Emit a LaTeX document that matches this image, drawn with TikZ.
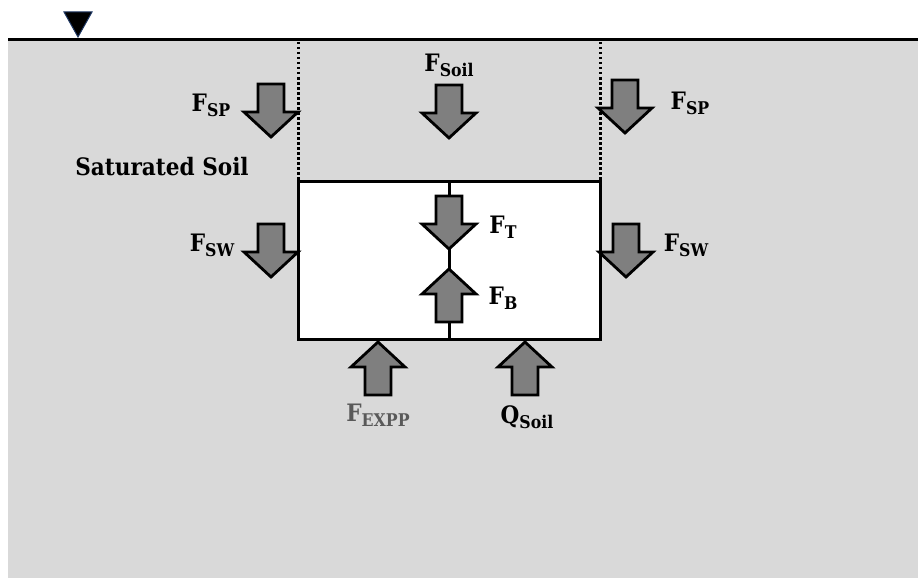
\documentclass[tikz,border=0pt]{standalone}
\usepackage{fontspec}
\setmainfont{DejaVu Serif Condensed}
\usetikzlibrary{calc}
\definecolor{soilgray}{HTML}{D9D9D9}
\definecolor{arrowgray}{HTML}{7F7F7F}
\definecolor{labelgray}{HTML}{595959}
\definecolor{navyedge}{HTML}{1F3864}
\newcommand{\FSub}[2]{#1\raisebox{-5pt}{\fontsize{17.5}{17.5}\selectfont #2}}
\begin{document}
\begin{tikzpicture}[x=1pt,y=-1pt,
  arrowstyle/.style={fill=arrowgray,draw=black,line width=2.8pt,line join=miter},
  blockarrow/.pic={\draw[arrowstyle] (-13,-53)--(13,-53)--(13,-25)--(27,-25)--(0,0)--(-27,-25)--(-13,-25)--cycle;},
  lbl/.style={font=\fontsize{24}{28}\selectfont\bfseries,inner sep=0pt},
  dotline/.style={line width=3pt,dash pattern=on 2.5pt off 2.5pt},
  boxstyle/.style={draw=black,fill=white,line width=3pt,minimum width=302pt,minimum height=158pt,inner sep=0pt,outer sep=0pt}]
\useasboundingbox (0,0) rectangle (918,578);
% soil
\fill[soilgray] (8,40) rectangle (918,578);
\coordinate (gl) at (8,40);
\coordinate (gr) at (918,40);
\draw[line width=3pt] (gl) -- (gr);
% water table marker
\draw[fill=black,draw=navyedge,line width=1pt] (64,12) -- (92,12) -- (78,37) -- cycle;
% box
\node[boxstyle] (box) at (449,260) {};
\coordinate (dl) at (298,42);
\coordinate (dr) at (600,42);
\draw[dotline] (dl) -- (box.north west);
\draw[dotline] (dr) -- (box.north east);
\draw[line width=3pt] (box.north) -- (box.south);
% arrows
\pic (fspl) at (271,137) {blockarrow};
\pic (fsoil) at (449,138) {blockarrow};
\pic (fspr) at (625,133) {blockarrow};
\pic (fswl) at (271,277) {blockarrow};
\pic (fswr) at (626,277) {blockarrow};
\pic (ft) at (449,249) {blockarrow};
\pic[rotate=180] (fb) at (449,269) {blockarrow};
\pic[rotate=180] (fexpp) at (378,342) {blockarrow};
\pic[rotate=180] (qsoil) at (525,342) {blockarrow};
% labels
\node[lbl] (lfspl) at (211,105) {\FSub{F}{SP}};
\node[lbl] (lsat) at (162,167) {Saturated Soil};
\node[lbl] (lfsoil) at (449,65) {\FSub{F}{Soil}};
\node[lbl] (lfspr) at (690,103) {\FSub{F}{SP}};
\node[lbl] (lfswl) at (212,245) {\FSub{F}{SW}};
\node[lbl] (lfswr) at (686,245) {\FSub{F}{SW}};
\node[lbl] (lft) at (503,227) {\FSub{F}{T}};
\node[lbl] (lfb) at (503,298) {\FSub{F}{B}};
\node[lbl,text=labelgray] (lfexpp) at (378,415) {\FSub{F}{EXPP}};
\node[lbl] (lqsoil) at (527,417) {\FSub{Q}{Soil}};
\end{tikzpicture}
\end{document}
